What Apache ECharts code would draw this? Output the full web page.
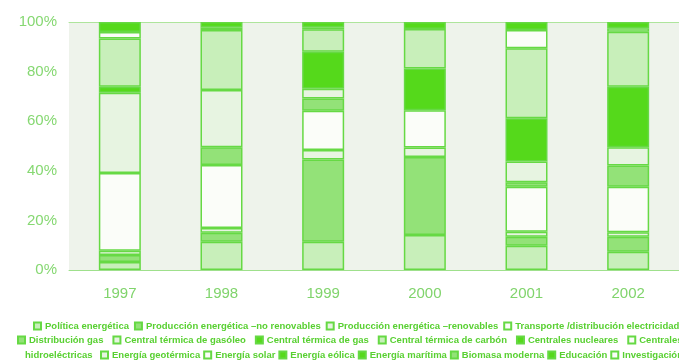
<!DOCTYPE html>
<html>
<head>
<meta charset="utf-8">
<script src="https://cdn.jsdelivr.net/npm/echarts@6/dist/echarts.min.js"></script>
<style>
  html, body { margin: 0; padding: 0; background: #ffffff; }
  #chart { width: 679px; height: 361px; }
</style>
</head>
<body>
<div id="chart"></div>
<script>
// años y porcentajes (lectura aproximada del gráfico)
const years = ['1997', '1998', '1999', '2000', '2001', '2002']
const politica = [3.2, 11.4, 11.4, 14.1, 9.8, 7.4]
const prodNoRenov = [2.8, 3.6, 33.2, 31.5, 3.6, 6.0]
const prodRenov = [1.8, 1.9, 3.8, 3.8, 2.0, 1.8]
const transporte = [31.3, 25.4, 15.8, 15.0, 18.2, 18.4]
const distGas = [0, 7.2, 5.0, 0, 1.8, 8.5]
const termGasoleo = [32.4, 23.1, 3.9, 0, 8.3, 7.4]
const termGas = [2.4, 0, 14.9, 16.8, 17.5, 24.4]
const termCarbon = [19.4, 24.2, 9.1, 16.0, 28.2, 22.2]
const nucleares = [0, 0, 0, 0, 0, 0]
const hidro = [2.7, 0, 0, 0, 7.4, 0]
const geotermica = [0, 1.1, 0.8, 0, 0, 1.4]
const solar = [0, 0, 0, 0, 0, 0]
const eolica = [0, 0, 0, 0, 0, 0]
const maritima = [0, 0, 0, 0, 0, 0]
const biomasa = [0, 0, 0, 0, 0, 0]
const educacion = [4.0, 2.1, 2.1, 2.8, 3.2, 2.5]
const investigacion = [0, 0, 0, 0, 0, 0]

const bright = '#55d91b'
const medium = '#93e278'
const light = '#c8efba'
const pale = '#e7f4e1'
const white = '#fbfdf9'

let seriesDefs = [
  ['Política energética', politica, light],
  ['Producción energética –no renovables', prodNoRenov, medium],
  ['Producción energética –renovables', prodRenov, pale],
  ['Transporte /distribución electricidad', transporte, white],
  ['Distribución gas', distGas, medium],
  ['Central térmica de gasóleo', termGasoleo, pale],
  ['Central térmica de gas', termGas, bright],
  ['Central térmica de carbón', termCarbon, light],
  ['Centrales nucleares', nucleares, bright],
  ['Centrales hidroeléctricas', hidro, white],
  ['Energía geotérmica', geotermica, pale],
  ['Energía solar', solar, white],
  ['Energía eólica', eolica, bright],
  ['Energía marítima', maritima, bright],
  ['Biomasa moderna', biomasa, medium],
  ['Educación', educacion, bright],
  ['Investigación', investigacion, white]
]

let names = seriesDefs.map(d => d[0])

let legendBase = {
  orient: 'horizontal',
  width: 1200,
  itemWidth: 7,
  itemHeight: 7,
  itemGap: 5,
  selectedMode: false,
  icon: 'rect',
  textStyle: {
    color: '#58d031',
    fontSize: 9.5,
    fontWeight: 'bold',
    fontFamily: 'Liberation Sans, Arial, sans-serif',
    padding: [0, 0, 0, -1]
  },
  padding: 0
}

let myChart = echarts.init(document.getElementById('chart'), null, { renderer: 'canvas' })
let options = {
  animation: false,
  backgroundColor: '#ffffff',
  grid: {
    left: 69,
    top: 22,
    width: 616,
    bottom: 91,
    show: true,
    backgroundColor: '#eef3eb',
    borderWidth: 0
  },
  legend: [
    Object.assign({}, legendBase, { left: 33, top: 321, data: names.slice(0, 4) }),
    Object.assign({}, legendBase, { left: 17, top: 335, itemGap: 9, data: names.slice(4, 10) }),
    Object.assign({}, legendBase, { left: 100, top: 350, itemGap: 3, data: names.slice(10) })
  ],
  graphic: [
    {
      type: 'text',
      left: 25,
      top: 350,
      style: {
        text: 'hidroeléctricas',
        fill: '#58d031',
        font: 'bold 9.5px Liberation Sans, Arial, sans-serif'
      }
    }
  ],
  xAxis: [
    {
      type: 'category',
      data: years,
      axisLine: { lineStyle: { color: '#9fe08c', width: 1 } },
      axisTick: { show: false },
      axisLabel: {
        color: '#80d46c',
        fontSize: 15,
        fontFamily: 'Liberation Sans, Arial, sans-serif',
        margin: 16
      }
    },
    {
      type: 'category',
      data: years,
      position: 'top',
      axisLine: { lineStyle: { color: '#aee59c', width: 1 } },
      axisTick: { show: false },
      axisLabel: { show: false }
    }
  ],
  yAxis: {
    type: 'value',
    min: 0,
    max: 100,
    interval: 20,
    axisLine: { show: false },
    axisTick: { show: false },
    splitLine: { show: false },
    axisLabel: {
      formatter: '{value}%',
      color: '#86d872',
      fontSize: 15,
      fontFamily: 'Liberation Sans, Arial, sans-serif',
      margin: 12
    }
  },
  series: seriesDefs.map(d => ({
    name: d[0],
    type: 'bar',
    stack: 'total',
    barWidth: 42,
    data: d[1].map(v => (v === 0 ? null : v)),
    itemStyle: {
      color: d[2],
      borderColor: '#66d944',
      borderWidth: 1.5
    }
  }))
}
myChart.setOption(options)
</script>
</body>
</html>
